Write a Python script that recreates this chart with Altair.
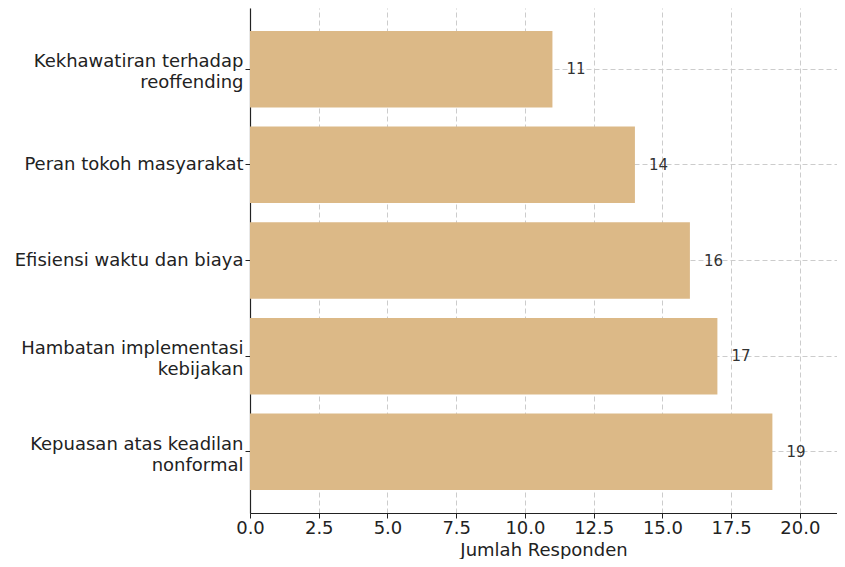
import altair as alt
import pandas as pd

categories = [
    "Kekhawatiran terhadap|reoffending",
    "Peran tokoh masyarakat",
    "Efisiensi waktu dan biaya",
    "Hambatan implementasi|kebijakan",
    "Kepuasan atas keadilan|nonformal",
]
values = [11, 14, 16, 17, 19]

df = pd.DataFrame({"kategori": categories, "jumlah": values})

FONT = "DejaVu Sans"

y_enc = alt.Y(
    "kategori:N",
    sort=categories,
    title=None,
    scale=alt.Scale(paddingInner=0.2, paddingOuter=0.24),
    axis=alt.Axis(
        labelExpr="split(datum.label, '|')",
        labelFontSize=18,
        labelLineHeight=21,
        labelColor="#222222",
        labelFont=FONT,
        labelPadding=2,
        labelLimit=300,
        labelOffset={
            "condition": {"test": "indexof(datum.value, '|') >= 0", "value": -7},
            "value": 0,
        },
        tickSize=5,
        tickColor="#222222",
        domainColor="#222222",
        grid=True,
        gridDash=[5, 3],
        gridColor="#cccccc",
        bandPosition=0.5,
        tickBand="center",
    ),
)

x_enc = alt.X(
    "jumlah:Q",
    title="Jumlah Responden",
    scale=alt.Scale(domain=[0, 21.35], nice=False, zero=True),
    axis=alt.Axis(
        values=[0, 2.5, 5, 7.5, 10, 12.5, 15, 17.5, 20],
        format=".1f",
        labelFontSize=18,
        labelColor="#222222",
        labelFont=FONT,
        labelPadding=1,
        labelFlush=False,
        titleFontSize=18,
        titleFont=FONT,
        titleFontWeight="normal",
        titleColor="#222222",
        titlePadding=4,
        tickSize=5,
        tickColor="#222222",
        domainColor="#222222",
        grid=True,
        gridDash=[5, 3],
        gridColor="#cccccc",
    ),
)

bars = alt.Chart(df).mark_bar(color="#DCB987").encode(x=x_enc, y=y_enc)

labels = alt.Chart(df).mark_text(
    align="left", baseline="middle", dx=14, fontSize=15, font=FONT, color="#333333"
).encode(
    x=alt.X("jumlah:Q"),
    y=alt.Y("kategori:N", sort=categories),
    text=alt.Text("jumlah:Q"),
)

chart = (
    alt.layer(bars, labels)
    .properties(
        width=587,
        height=505,
        padding={"left": 242, "top": 0, "right": 0, "bottom": 46},
        autosize=alt.AutoSizeParams(type="none"),
    )
    .configure_view(stroke=None)
    .configure_axis(domainWidth=1.2)
)

chart.save("out.html", embed_options={"renderer": "svg", "actions": False})
